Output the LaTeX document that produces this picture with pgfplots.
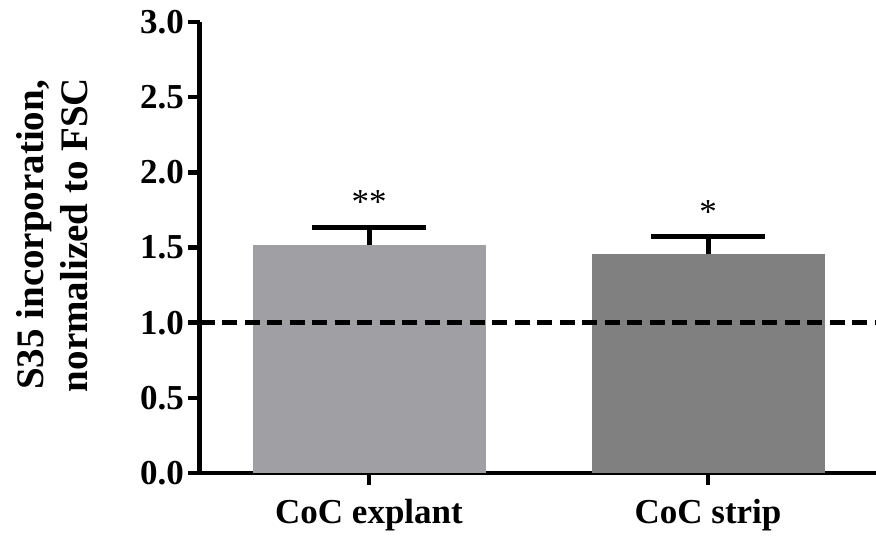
\documentclass[border=0pt]{standalone}
\usepackage{pgfplots}
\pgfplotsset{compat=1.18}
\usepackage{fontspec}
\setmainfont{Liberation Serif}
\definecolor{barA}{HTML}{A09FA4}
\definecolor{barB}{HTML}{808080}
\begin{document}
\begin{tikzpicture}[x=1pt,y=1pt]
\useasboundingbox (0,0) rectangle (876,536);
\begin{axis}[
  at={(199.5pt,63pt)}, anchor=south west,
  scale only axis, width=678pt, height=451pt,
  xmin=-0.5, xmax=1.5, ymin=0, ymax=3,
  axis x line*=bottom, axis y line*=left,
  axis line style={line width=4.8pt, -},
  tick align=outside,
  major tick length=12pt,
  tick style={line width=4.5pt, black},
  xtick={0,1}, xticklabels={CoC explant, CoC strip},
  ytick={0,0.5,1,1.5,2,2.5,3},
  yticklabel style={/pgf/number format/.cd, fixed, fixed zerofill, precision=1},
  /pgf/number format/assume math mode=true,
  tick label style={font=\bfseries\fontsize{35}{36}\selectfont},
  xticklabel style={yshift=-11pt},
  clip=false,
]
\addplot[ybar, bar width=233pt, bar shift=0pt, fill=barA, draw=none,
  error bars/.cd, y dir=plus, y explicit,
  error bar style={line width=5pt, black},
  error mark options={rotate=90, line width=5pt, mark size=57pt, black}]
  coordinates {(0,1.515) +- (0,0.115)};
\addplot[ybar, bar width=233pt, bar shift=0pt, fill=barB, draw=none,
  error bars/.cd, y dir=plus, y explicit,
  error bar style={line width=5pt, black},
  error mark options={rotate=90, line width=5pt, mark size=57pt, black}]
  coordinates {(1,1.455) +- (0,0.12)};
\addplot[black, line width=5pt, dash pattern=on 15pt off 7.5pt] coordinates {(-0.5,1) (1.5,1)};
\node[font=\fontsize{35}{35}\selectfont] at (axis cs:0,1.80) {**};
\node[font=\fontsize{35}{35}\selectfont] at (axis cs:1,1.735) {*};
\end{axis}
\node[rotate=90, align=center, inner sep=0pt, font=\bfseries\fontsize{39}{44}\selectfont] at (52,301)
  {S35 incorporation,\\normalized to FSC};
\end{tikzpicture}
\end{document}
